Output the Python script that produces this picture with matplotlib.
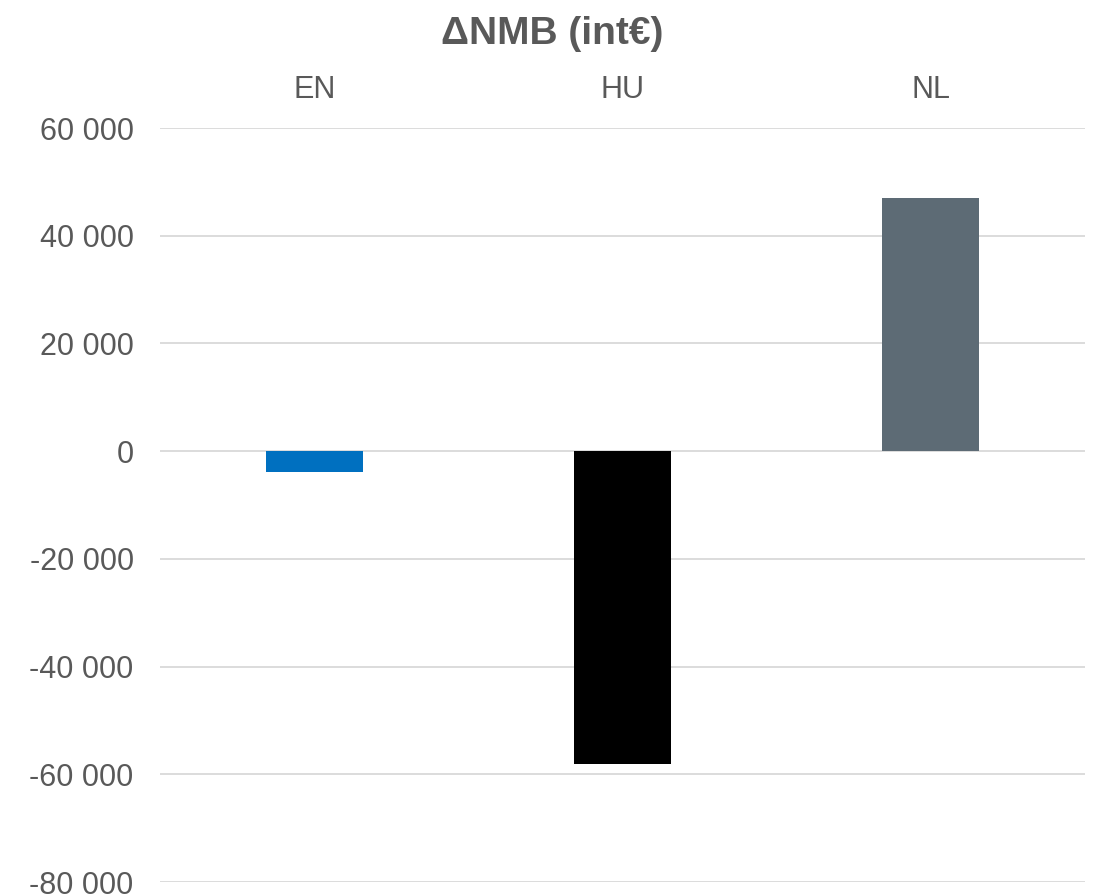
import matplotlib.pyplot as plt
from matplotlib.ticker import FuncFormatter

plt.rcParams['font.family'] = ['Liberation Sans', 'DejaVu Sans']

# ΔNMB per country (int€)
countries = ['EN', 'HU', 'NL']
delta_nmb = [-3900, -58000, 47000]
bar_colors = ['#0070C0', '#000000', '#5D6B75']

text_grey = '#595959'
grid_grey = '#D9D9D9'

fig = plt.figure(figsize=(10.97, 8.96), dpi=100)
ax = fig.add_axes([0.1459, 0.0155, 0.8431, 0.8416])

ax.bar(range(len(countries)), delta_nmb, width=0.315, color=bar_colors, zorder=3)

ax.set_xlim(-0.5, len(countries) - 0.5)
ax.set_ylim(-80000, 60000)
ax.set_yticks(range(-80000, 60001, 20000))
ax.yaxis.set_major_formatter(FuncFormatter(lambda v, p: f'{int(v):,}'.replace(',', ' ')))

# category labels sit above the plot
ax.xaxis.tick_top()
ax.set_xticks(range(len(countries)))
ax.set_xticklabels(countries)

ax.tick_params(axis='both', length=0, colors=text_grey, labelsize=22)
ax.tick_params(axis='y', pad=19)
ax.tick_params(axis='x', pad=16.5)

ax.grid(axis='y', color=grid_grey, linewidth=1.3, zorder=0)
for s in ax.spines.values():
    s.set_visible(False)

fig.text(0.5035, 0.962, 'ΔNMB (int€)', ha='center', va='center',
         fontsize=28, fontweight='bold', color=text_grey)

fig.savefig('out.png', dpi=100)
